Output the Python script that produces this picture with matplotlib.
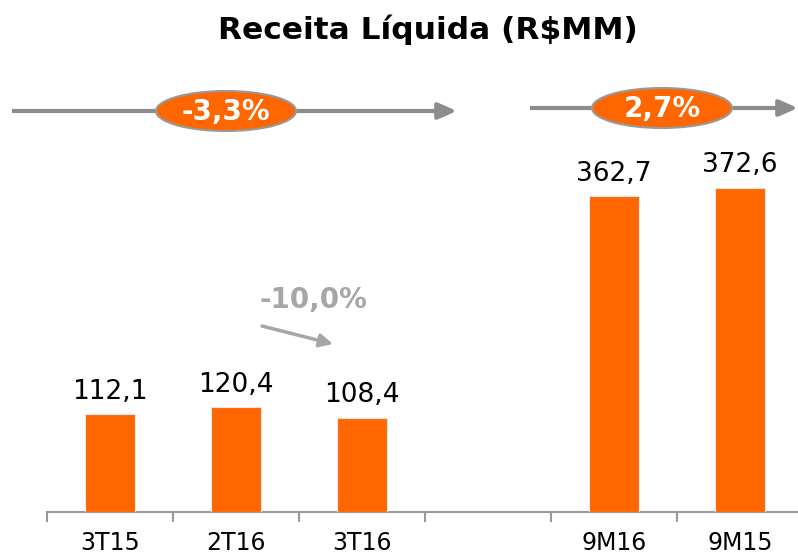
import matplotlib
matplotlib.use("Agg")
import matplotlib.pyplot as plt
from matplotlib.patches import Ellipse

categories = ["3T15", "2T16", "3T16", "9M16", "9M15"]
positions = [0, 1, 2, 4, 5]
values = [112.1, 120.4, 108.4, 362.7, 372.6]
value_labels = ["112,1", "120,4", "108,4", "362,7", "372,6"]
title = "Receita Líquida (R$MM)"
growth_left = "-3,3%"
growth_right = "2,7%"
growth_mid = "-10,0%"

ORANGE = "#FF6600"
GRAY = "#8C8C8C"
W, H = 798, 558

fig = plt.figure(figsize=(W / 100, H / 100), dpi=100)
plt.rcParams['font.family'] = ['DejaVu Sans']

# main axes in pixel geometry
x0, x1 = 47, 803
ybase = 512
ymax = 420
pxu = 0.87
ax = fig.add_axes([x0 / W, (H - ybase) / H, (x1 - x0) / W, ymax * pxu / H])
ax.bar(positions, values, width=0.4, color=ORANGE, edgecolor="#e6e6e6", linewidth=0.8, zorder=3)
ax.set_xlim(-0.5, 5.5)
ax.set_ylim(0, ymax)
for s in ["top", "right", "left"]:
    ax.spines[s].set_visible(False)
ax.spines["bottom"].set_color("#999999")
ax.spines["bottom"].set_linewidth(1.5)
ax.set_yticks([])
ax.set_xticks([i - 0.5 for i in range(7)])
ax.set_xticklabels([])
ax.tick_params(axis="x", which="major", length=7, width=1.5, color="#999999", direction="out")
ax.set_xticks(positions, minor=True)
ax.set_xticklabels(categories, minor=True, fontsize=17)
ax.tick_params(axis="x", which="minor", length=0, pad=14)
for p, v, lab in zip(positions, values, value_labels):
    ax.text(p, v + 11, lab, ha="center", va="bottom", fontsize=19, color="black")

# overlay axes in pixel coordinates for decorations
ov = fig.add_axes([0, 0, 1, 1])
ov.set_xlim(0, W)
ov.set_ylim(H, 0)
ov.axis("off")
ov.patch.set_alpha(0)

ov.text(428, 30, title, ha="center", va="center", fontsize=22.5, fontweight="bold")

def growth(xa, xb, y, cx, txt):
    ov.annotate("", xy=(xb, y), xytext=(xa, y), annotation_clip=False,
                arrowprops=dict(arrowstyle="-|>,head_length=0.8,head_width=0.35",
                                color=GRAY, lw=3, mutation_scale=14, shrinkA=0, shrinkB=0,
                                capstyle="butt"))
    ov.add_patch(Ellipse((cx, y), 140, 40, facecolor=ORANGE, edgecolor="#999999", lw=1.5, zorder=5))
    ov.text(cx, y + 1, txt, ha="center", va="center", fontsize=20, fontweight="bold",
            color="white", zorder=6)

growth(12, 457, 111, 226, growth_left)
growth(530, 798, 108, 662, growth_right)

ov.text(313, 300, growth_mid, ha="center", va="center", fontsize=20, fontweight="bold", color="#A6A6A6")
ov.annotate("", xy=(333, 344), xytext=(262, 326), annotation_clip=False,
            arrowprops=dict(arrowstyle="-|>,head_length=0.6,head_width=0.3",
                            color="#A6A6A6", lw=2.5, mutation_scale=13, shrinkA=0, shrinkB=0))

fig.savefig("out.png", dpi=100)
